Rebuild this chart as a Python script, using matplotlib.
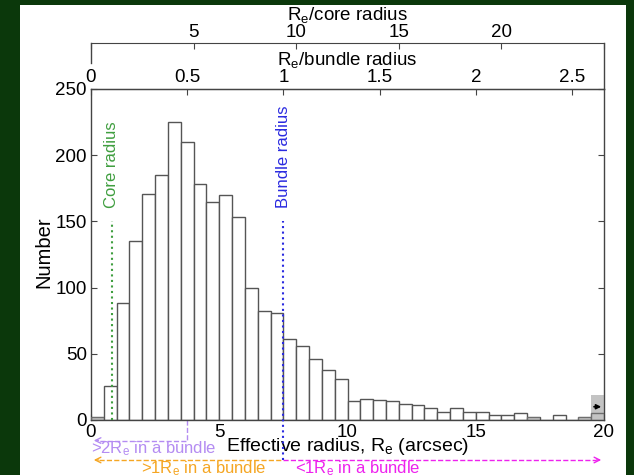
import numpy as np
import matplotlib
matplotlib.use('Agg')
import matplotlib.pyplot as plt
from matplotlib.patches import Rectangle
from matplotlib.ticker import FuncFormatter

plt.rcParams['font.family'] = ['Liberation Sans', 'DejaVu Sans']
plt.rcParams['mathtext.fontset'] = 'custom'
plt.rcParams['mathtext.rm'] = 'Liberation Sans'
plt.rcParams['mathtext.it'] = 'Liberation Sans:italic'

# histogram of effective radii, 0.5 arcsec bins from 0 to 20
bin_width = 0.5
counts = [2, 26, 88, 135, 171, 185, 225, 210, 178, 165,
          170, 153, 100, 82, 81, 61, 56, 46, 38, 31,
          14, 16, 15, 14, 12, 11, 9, 6, 9, 6,
          6, 4, 4, 5, 2, 0, 4, 0, 2, 5]
# grey overlay (overflow / other sample)
grey_bins = [0, 34, 38, 39]
grey_counts = [2, 2, 2, 19]

core_radius = 0.8     # arcsec
bundle_radius = 7.5   # arcsec
x_ticks = [0, 5, 10, 15, 20]
y_ticks = [0, 50, 100, 150, 200, 250]
bundle_ticks = [0, 0.5, 1, 1.5, 2, 2.5]
core_ticks = [0, 5, 10, 15, 20, 25]
core_labels = ['', '5', '10', '15', '20', '']

green = '#3f9e3f'
blue = '#2a2ae0'
purple = '#b48cf2'
orange = '#f5a623'
magenta = '#ee22ee'

fig = plt.figure(figsize=(6.34, 4.75), dpi=100)
fig.patch.set_facecolor('#0b380b')
fig.patches.append(Rectangle((20 / 634, 0), 606 / 634, 1 - 5 / 475,
                             transform=fig.transFigure, facecolor='white',
                             edgecolor='none', zorder=-10))

ax = fig.add_axes([91 / 634, 1 - 420 / 475, 513 / 634, 331 / 475])
ax.set_facecolor('none')

edges = np.arange(len(counts)) * bin_width
ax.bar(edges, counts, width=bin_width, align='edge', facecolor='white',
       edgecolor='#555555', linewidth=1.0, zorder=2)
ax.bar(edges[grey_bins], grey_counts, width=bin_width, align='edge',
       facecolor='#888888', alpha=0.5, edgecolor='none', zorder=3)
ax.annotate('', xy=(20, 10), xytext=(19.5, 10),
            arrowprops=dict(arrowstyle='-|>', color='black', lw=1.2,
                            mutation_scale=7), zorder=4, annotation_clip=False)

ax.set_xlim(0, 20)
ax.set_ylim(0, 250)
ax.set_xticks(x_ticks)
ax.set_yticks(y_ticks)
ax.tick_params(direction='in', length=4, labelsize=13.5, pad=3,
               right=True, top=False, color='#444444')
ax.set_ylabel('Number', fontsize=14.5)
ax.yaxis.set_label_coords(-0.074, 0.507)
for s in ax.spines.values():
    s.set_color('#444444')
    s.set_linewidth(1)

# R_e / bundle radius on the top spine
top = ax.secondary_xaxis('top', functions=(lambda x: x / bundle_radius,
                                           lambda x: x * bundle_radius))
top.set_xticks(bundle_ticks)
top.xaxis.set_major_formatter(FuncFormatter(lambda v, p: '%g' % v))
top.tick_params(direction='in', length=4, labelsize=13.5, pad=2, color='#444444')
top.set_xlabel('R$_\\mathrm{e}$/bundle radius', fontsize=13.5, labelpad=3)
top.spines['top'].set_color('#444444')

# R_e / core radius axis above that
core = ax.secondary_xaxis(1.1375, functions=(lambda x: x / core_radius,
                                             lambda x: x * core_radius))
core.set_xticks(core_ticks)
core.set_xticklabels(core_labels)
core.tick_params(direction='in', length=4, labelsize=13.5, pad=2, color='#444444')
core.set_xlabel('R$_\\mathrm{e}$/core radius', fontsize=13.5, labelpad=3)
core.spines['top'].set_color('#444444')
ax.plot([0, 0], [1.1375, 1.0785], transform=ax.transAxes, color='#444444',
        lw=1, clip_on=False)
ax.plot([1, 1], [1.1375, 1.0], transform=ax.transAxes, color='#444444',
        lw=1, clip_on=False)

# core and bundle radius markers
ax.plot([core_radius, core_radius], [0, 150], color=green, ls=':', lw=1.5,
        zorder=5)
ax.text(core_radius, 160, 'Core radius', color=green, rotation=90,
        ha='center', va='bottom', fontsize=12)
ax.plot([bundle_radius, bundle_radius], [-30.2, 150], color=blue, ls=':',
        lw=1.5, zorder=5, clip_on=False)
ax.text(bundle_radius, 160, 'Bundle radius', color=blue, rotation=90,
        ha='center', va='bottom', fontsize=12)

ax.text(10, -20, 'Effective radius, R$_\\mathrm{e}$ (arcsec)', ha='center',
        va='center', fontsize=14)

# coverage brackets below the axis
half = bundle_radius / 2
ax.plot([half, half, 0.3], [0, -15.5, -15.5], color=purple, ls='--', lw=1,
        clip_on=False)
ax.annotate('', xy=(0, -15.5), xytext=(0.4, -15.5), annotation_clip=False,
            arrowprops=dict(arrowstyle='->', color=purple, lw=1))
ax.text(0, -21.5, '>2R$_\\mathrm{e}$ in a bundle', color=purple, ha='left',
        va='center', fontsize=12)

ax.plot([0.3, bundle_radius], [-30.2, -30.2], color=orange, ls='--', lw=1,
        clip_on=False)
ax.annotate('', xy=(0, -30.2), xytext=(0.4, -30.2), annotation_clip=False,
            arrowprops=dict(arrowstyle='->', color=orange, lw=1))
ax.plot([bundle_radius, 19.7], [-30.2, -30.2], color=magenta, ls='--', lw=1,
        clip_on=False)
ax.annotate('', xy=(20, -30.2), xytext=(19.6, -30.2), annotation_clip=False,
            arrowprops=dict(arrowstyle='->', color=magenta, lw=1))
ax.text(4.4, -36.5, '>1R$_\\mathrm{e}$ in a bundle', color=orange,
        ha='center', va='center', fontsize=12)
ax.text(10.4, -36.5, '<1R$_\\mathrm{e}$ in a bundle', color=magenta,
        ha='center', va='center', fontsize=12)

fig.savefig('out.png', dpi=100, facecolor=fig.get_facecolor())
